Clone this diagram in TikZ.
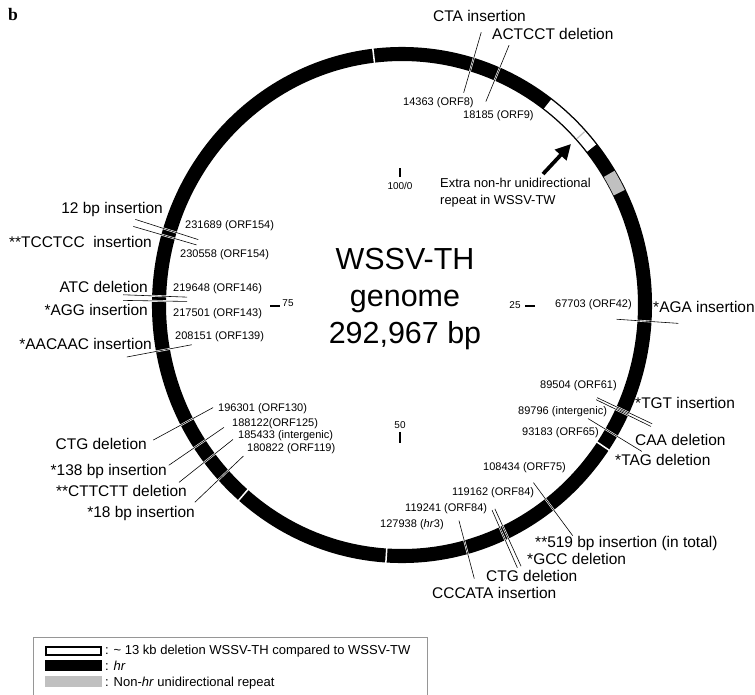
\documentclass[tikz,border=0pt]{standalone}
\usepackage{fontspec}
\setmainfont{Liberation Sans}
\newfontfamily\panelfont{Liberation Serif}
\usetikzlibrary{calc,arrows.meta}
\definecolor{repeatgrey}{RGB}{192,192,192}
\definecolor{boxgrey}{RGB}{150,150,150}

\begin{document}
\begin{tikzpicture}[x=0.03cm, y=-0.03cm,
    lab/.style={font=\fontsize{13.2}{15}\selectfont, inner sep=0pt},
    orf/.style={font=\fontsize{9.4}{11}\selectfont, inner sep=0pt},
    small/.style={font=\fontsize{8.5}{10}\selectfont, inner sep=0pt},
    leg/.style={font=\fontsize{11.1}{13}\selectfont, inner sep=0pt, anchor=west},
    lead/.style={black, line width=0.5pt, preaction={draw=white, line width=1.6pt}},
    gap/.style={white, line width=1.3pt}]
    \useasboundingbox (0,0) rectangle (755,694);
    \coordinate (C) at (402,305);

    % Panel letter
    \node[font=\panelfont\bfseries\fontsize{15}{18}\selectfont] (panel) at (13,14) {b};

    % Genome ring
    \draw[line width=12pt] (C) ellipse[x radius=243, y radius=251];
    \foreach \a in {-96.7, 34.2, 93.7, 130.8}
        \draw[gap] ($(C)+(\a:234 and 242)$) -- ($(C)+(\a:252 and 260)$);
    % ~13 kb deletion and non-hr repeat
    \draw[white, line width=9.6pt] ($(C)+(-53.2:243 and 251)$)
        arc[start angle=-53.2, end angle=-38.7, x radius=243, y radius=251];
    \draw[repeatgrey, line width=1pt] ($(C)+(-42.6:238 and 246)$) -- ($(C)+(-42.6:248 and 256)$);
    \draw[repeatgrey, line width=10.5pt] ($(C)+(-31.5:243 and 251)$)
        arc[start angle=-31.5, end angle=-26.6, x radius=243, y radius=251];

    % Centre title and scale ticks
    \node[font=\fontsize{26}{31.2}\selectfont, align=center] (title) at (405,299) {WSSV-TH\\genome\\292,967 bp};
    \draw[line width=0.9pt] (400,168) -- (400,177);
    \node[small] (t100) at (400,186) {100/0};
    \node[small] (t25) at (515,305) {25};
    \draw[line width=0.9pt] (525,306) -- (535,306);
    \node[small] (t50) at (400,425) {50};
    \draw[line width=0.9pt] (400,432) -- (400,443);
    \draw[line width=0.9pt] (270,306) -- (280,306);
    \node[small] (t75) at (288,303) {75};

    % Leader lines (angle/inner/outer)
    \foreach \a/\ra/\rb in {-73.8/221/284, -67.6/220/281, 197.8/214/280, 196.3/214/280,
        182.1/215/279, 180.95/215/279, 169.3/214/280, 151.5/215/283, 145.5/216/283,
        141.5/216/285, 136.4/219/286, 75.2/223/283, 66.3/224/287, 65.5/224/287,
        53.5/221/287, 31.4/218/281, 25.4/216/277, 26.0/216/277, 3.8/215/277}
        \draw[lead] ($(C)+(\a:\ra)$) -- ($(C)+(\a:\rb)$);

    % Top
    \node[lab, anchor=west] (cta) at (433,16) {CTA insertion};
    \node[lab, anchor=west] (actcct) at (492,34) {ACTCCT deletion};
    \node[orf, anchor=west] (orf8) at (403,103) {14363 (ORF8)};
    \node[orf, anchor=west] (orf9) at (463,116) {18185 (ORF9)};
    \node[font=\fontsize{11}{14.5}\selectfont, align=left, anchor=north west, inner sep=0pt] (extra) at (440,178)
        {Extra non-hr unidirectional\\repeat in WSSV-TW};
    \coordinate (arrtail) at (543,174);
    \coordinate (arrtip) at (571,144);
    \draw[line width=3.2pt, -{Triangle[length=13pt, width=13pt]}] (arrtail) -- (arrtip);

    % Left
    \node[lab, anchor=east] (ins12) at (163,209) {12 bp insertion};
    \node[lab, anchor=east] (tcctcc) at (152,242) {**TCCTCC\ \ insertion};
    \node[orf, anchor=west] (orf154a) at (185,226) {231689 (ORF154)};
    \node[orf, anchor=west] (orf154b) at (180,255) {230558 (ORF154)};
    \node[lab, anchor=east] (atc) at (148,287) {ATC deletion};
    \node[lab, anchor=east] (agg) at (148,310) {*AGG insertion};
    \node[orf, anchor=west] (orf146) at (173,289) {219648 (ORF146)};
    \node[orf, anchor=west] (orf143) at (173,314) {217501 (ORF143)};
    \node[orf, anchor=west] (orf139) at (175,337) {208151 (ORF139)};
    \node[lab, anchor=east] (aacaac) at (152,344) {*AACAAC insertion};

    % Lower left
    \node[orf, anchor=west] (orf130) at (218,409) {196301 (ORF130)};
    \node[orf, anchor=west] (orf125) at (232,424) {188122(ORF125)};
    \node[orf, anchor=west] (inter1) at (238,436) {185433 (intergenic)};
    \node[orf, anchor=west] (orf119) at (247,449) {180822 (ORF119)};
    \node[lab, anchor=east] (ctg1) at (147,444) {CTG deletion};
    \node[lab, anchor=east] (ins138) at (167,471) {*138 bp insertion};
    \node[lab, anchor=east] (cttctt) at (187,491) {**CTTCTT deletion};
    \node[lab, anchor=east] (ins18) at (195,513) {*18 bp insertion};

    % Bottom
    \node[orf, anchor=west] (orf75) at (483,468) {108434 (ORF75)};
    \node[orf, anchor=west] (orf84a) at (452,493) {119162 (ORF84)};
    \node[orf, anchor=west] (orf84b) at (405,509) {119241 (ORF84)};
    \node[orf, anchor=west] (hr3) at (380,525) {127938 (\textit{hr}3)};
    \node[lab, anchor=west] (ins519) at (535,543) {**519 bp insertion (in total)};
    \node[lab, anchor=west] (gcc) at (527,559) {*GCC deletion};
    \node[lab, anchor=west] (ctg2) at (486,576) {CTG deletion};
    \node[lab, anchor=west] (cccata) at (432,593) {CCCATA insertion};

    % Right
    \node[orf, anchor=west] (orf42) at (555,305) {67703 (ORF42)};
    \node[lab, anchor=west] (aga) at (653,307) {*AGA insertion};
    \node[orf, anchor=west] (orf61) at (540,386) {89504 (ORF61)};
    \node[orf, anchor=west] (inter2) at (518,412) {89796 (intergenic)};
    \node[orf, anchor=west] (orf65) at (522,433) {93183 (ORF65)};
    \node[lab, anchor=west] (tgt) at (635,403) {*TGT insertion};
    \node[lab, anchor=west] (caa) at (635,440) {CAA deletion};
    \node[lab, anchor=west] (tag) at (615,460) {*TAG deletion};

    % Legend
    \draw[boxgrey, line width=0.8pt] (33,700) -- (33,637) -- (427,637) -- (427,700);
    \draw[line width=1.6pt, fill=white] (46,647) rectangle (101,655);
    \fill (45,660) rectangle (102,671);
    \fill[repeatgrey] (45,676) rectangle (102,687);
    \node[leg] (legdel) at (105,651) {: \textasciitilde{} 13 kb deletion WSSV-TH compared to WSSV-TW};
    \node[leg] (leghr) at (105,666) {: \textit{hr}};
    \node[leg] (legrep) at (105,683) {: Non-\textit{hr} unidirectional repeat};
\end{tikzpicture}
\end{document}
